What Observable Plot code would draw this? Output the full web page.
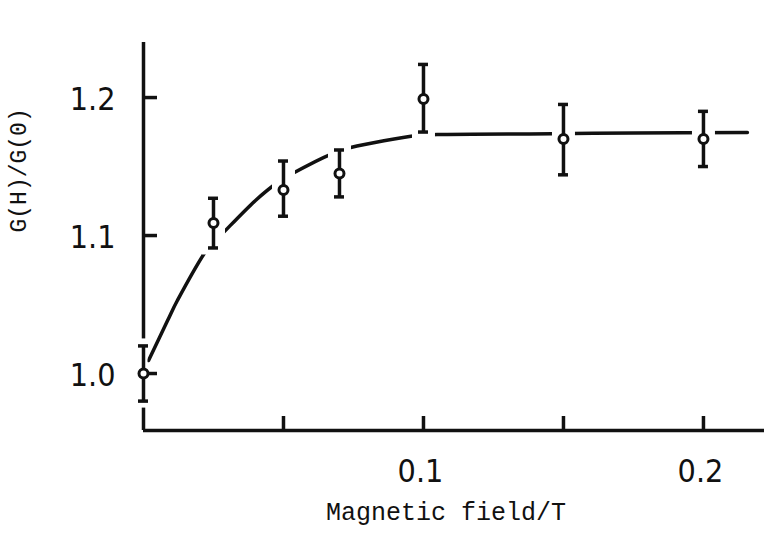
<!DOCTYPE html>
<html>
<head>
<meta charset="utf-8">
<script src="https://cdn.jsdelivr.net/npm/d3@7"></script>
<script src="https://cdn.jsdelivr.net/npm/@observablehq/plot@0.6"></script>
<style>
  html, body { margin: 0; padding: 0; background: #fff; }
  #chart svg { display: block; background: #fff; }
</style>
</head>
<body>
<div id="chart"></div>
<script>
// Measured points
const fieldT = [0, 0.025, 0.05, 0.07, 0.1, 0.15, 0.2];
const ratio  = [1.000, 1.109, 1.133, 1.145, 1.199, 1.170, 1.170];
const errHi  = [1.020, 1.127, 1.154, 1.162, 1.224, 1.195, 1.190];
const errLo  = [0.980, 1.091, 1.114, 1.128, 1.175, 1.144, 1.150];

// Fitted curve
const fitX = [0.0018, 0.0086, 0.0121, 0.0232, 0.0275, 0.040, 0.0479, 0.0532, 0.0675, 0.074, 0.0979, 0.105, 0.146, 0.175, 0.2157];
const fitY = [1.0094, 1.0384, 1.0529, 1.0913, 1.100, 1.1254, 1.1384, 1.1449, 1.1594, 1.1638, 1.1725, 1.1732, 1.1738, 1.1744, 1.1746];

// Axes
const xDomain = [0, 0.2218];
const yDomain = [0.9587, 1.2399];
const xTicks = [0.05, 0.1, 0.15, 0.2];
const xTickLabels = [0.1, 0.2];
const yTicks = [1.0, 1.1, 1.2];
const xTitle = "Magnetic field/T";
const yTitle = "G(H)/G(0)";

const points = fieldT.map((x, i) => ({x, y: ratio[i], hi: errHi[i], lo: errLo[i], i}));
const fit = fitX.map((x, i) => ({x, y: fitY[i]}));

const numFont = "'DejaVu Sans Condensed', 'Liberation Sans Narrow', 'DejaVu Sans', sans-serif";
const monoFont = "'Liberation Mono', 'DejaVu Sans Mono', monospace";
const ink = "#111";
const sw = 3.5;

const chart = Plot.plot({
  width: 764,
  height: 533,
  marginLeft: 143,
  marginRight: 0,
  marginTop: 42,
  marginBottom: 103,
  x: {domain: xDomain, axis: null},
  y: {domain: yDomain, axis: null},
  marks: [
    // spines
    Plot.ruleX([xDomain[0]], {stroke: ink, strokeWidth: sw}),
    Plot.ruleY([yDomain[0]], {stroke: ink, strokeWidth: sw}),
    // fitted curve
    Plot.line(fit, {x: "x", y: "y", curve: "catmull-rom", stroke: ink, strokeWidth: sw}),
    // white gaps around the error bars
    Plot.ruleX(points, {x: "x", y1: "hi", y2: "lo", stroke: "white",
      strokeWidth: d => d.i === 0 ? 8 : 23, insetTop: -7, insetBottom: -7}),
    // error bars
    Plot.ruleX(points, {x: "x", y1: "hi", y2: "lo", stroke: ink, strokeWidth: sw}),
    Plot.ruleY(points, {y: "hi", x1: "x", x2: "x", insetLeft: -5, insetRight: -5, stroke: ink, strokeWidth: sw}),
    Plot.ruleY(points, {y: "lo", x1: "x", x2: "x", insetLeft: -5, insetRight: -5, stroke: ink, strokeWidth: sw}),
    // ticks
    Plot.ruleY(yTicks, {y: d => d, x1: () => xDomain[0], x2: () => xDomain[0], insetRight: -14, stroke: ink, strokeWidth: sw}),
    Plot.ruleX(xTicks, {x: d => d, y1: () => yDomain[0], y2: () => yDomain[0], insetTop: -14, stroke: ink, strokeWidth: sw}),
    // markers
    Plot.dot(points, {x: "x", y: "y", r: 4.5, fill: "white", stroke: ink, strokeWidth: 3}),
    // tick labels
    Plot.text(yTicks, {x: () => xDomain[0], y: d => d, text: d => d.toFixed(1), dx: -28, dy: 2,
      textAnchor: "end", fontSize: 32, fontFamily: numFont, fill: ink}),
    Plot.text(xTickLabels, {x: d => d, y: () => yDomain[0], text: d => d.toFixed(1), dx: -3, dy: 41,
      fontSize: 32, fontFamily: numFont, fill: ink}),
    // axis titles
    Plot.text([xTitle], {frameAnchor: "bottom", text: d => d, dx: -8, dy: 89,
      fontSize: 25, fontFamily: monoFont, fill: ink}),
    Plot.text([yTitle], {frameAnchor: "left", text: d => d, rotate: -90, dx: -125, dy: -4,
      fontSize: 23, fontFamily: monoFont, fill: ink})
  ]
});
document.getElementById("chart").appendChild(chart);
</script>
</body>
</html>
